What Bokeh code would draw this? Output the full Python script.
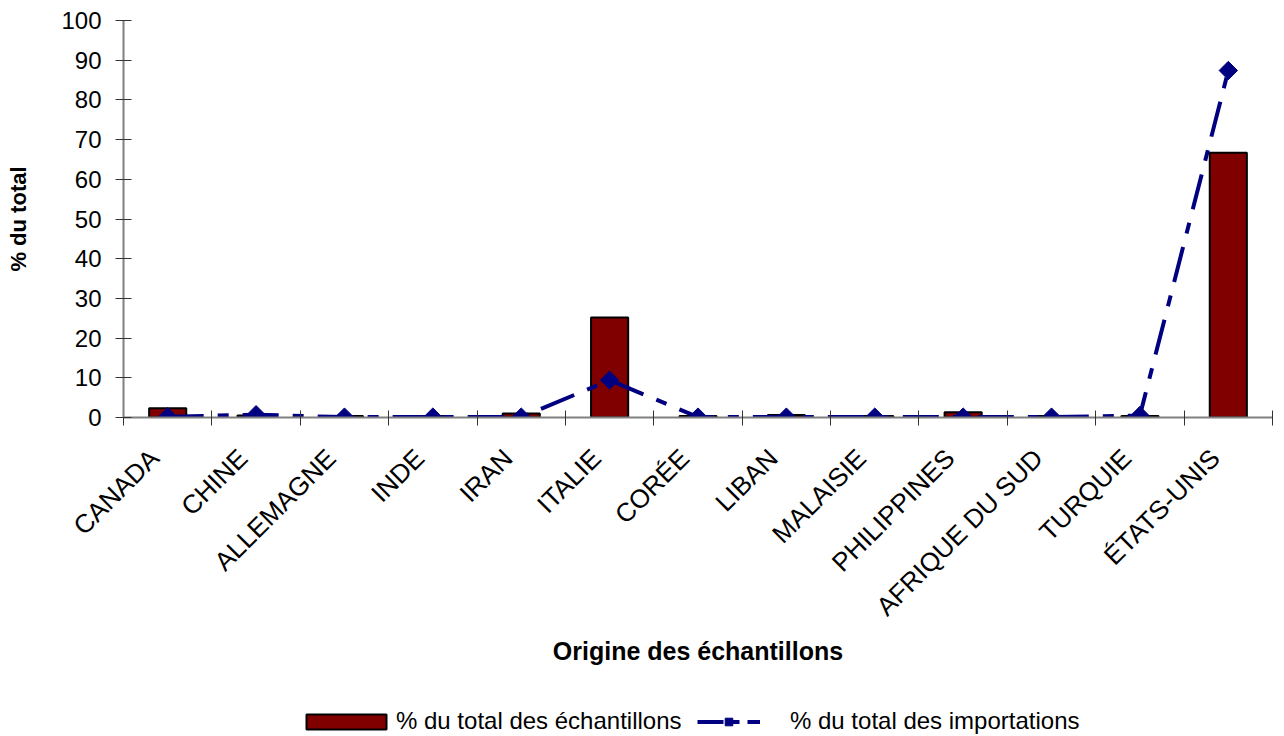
import math
import numpy as np
from bokeh.plotting import figure
from bokeh.layouts import column
from bokeh.models import Range1d, FixedTicker, Legend, LegendItem
from bokeh.embed import file_html
from bokeh.resources import INLINE

countries = ["CANADA", "CHINE", "ALLEMAGNE", "INDE", "IRAN", "ITALIE", "CORÉE",
             "LIBAN", "MALAISIE", "PHILIPPINES", "AFRIQUE DU SUD", "TURQUIE", "ÉTATS-UNIS"]
pct_samples = [2.3, 0.5, 0.4, 0.4, 1.0, 25.2, 0.4, 0.6, 0.4, 1.3, 0.4, 0.4, 66.7]
pct_imports = [0.2, 0.7, 0.1, 0.1, 0.1, 9.4, 0.1, 0.1, 0.1, 0.1, 0.1, 0.5, 87.4]
y_ticks = [0, 10, 20, 30, 40, 50, 60, 70, 80, 90, 100]

centers = [i + 0.5 for i in range(len(countries))]
bounds = [i for i in range(len(countries) + 1)]
label_pos = [c - 0.15 for c in centers]

FONT = "Liberation Sans"
BAR_FILL = "#800000"
LINE_COL = "#000080"
DASH = "36 14 11 14"

p = figure(width=1284, height=680, output_backend="svg", toolbar_location=None,
           x_range=Range1d(0, len(countries)), y_range=Range1d(0, 100),
           min_border_left=123, min_border_right=12, min_border_top=20,
           min_border_bottom=263)
p.outline_line_color = None
p.xgrid.visible = False
p.ygrid.visible = False
p.background_fill_color = "white"
p.border_fill_color = "white"

bars = p.vbar(x=centers, top=pct_samples, width=0.42, bottom=0,
              fill_color=BAR_FILL, line_color="black", line_width=2)
line = p.line(x=centers, y=pct_imports, line_color=LINE_COL, line_width=4,
              line_dash=DASH)
pts = p.scatter(x=centers, y=pct_imports, marker="square", angle=math.pi / 4,
                size=13, fill_color=LINE_COL, line_color=LINE_COL)

# x axis
xa = p.xaxis[0]
xa.ticker = FixedTicker(ticks=label_pos, minor_ticks=bounds)
xa.major_label_overrides = {c: n for c, n in zip(label_pos, countries)}
xa.major_label_orientation = math.pi / 4
xa.major_tick_line_color = None
xa.major_tick_in = 0
xa.major_tick_out = 0
xa.minor_tick_in = 7
xa.minor_tick_out = 8
xa.minor_tick_line_color = "#333333"
xa.axis_line_color = "#808080"
xa.axis_line_width = 2
xa.major_label_text_font = FONT
xa.major_label_text_font_size = "26px"
xa.major_label_text_color = "black"
xa.major_label_standoff = 28
xa.axis_label = "Origine des échantillons"
xa.axis_label_text_font = FONT
xa.axis_label_text_font_size = "25px"
xa.axis_label_text_font_style = "bold"
xa.axis_label_text_color = "black"
xa.axis_label_standoff = 2

# y axis
ya = p.yaxis[0]
ya.ticker = FixedTicker(ticks=y_ticks, minor_ticks=[])
ya.major_tick_in = 8
ya.major_tick_out = 8
ya.major_tick_line_color = "#333333"
ya.minor_tick_line_color = None
ya.axis_line_color = "#808080"
ya.axis_line_width = 2
ya.major_label_text_font = FONT
ya.major_label_text_font_size = "24px"
ya.major_label_text_color = "black"
ya.major_label_standoff = 14
ya.axis_label = "% du total"
ya.axis_label_text_font = FONT
ya.axis_label_text_font_size = "22px"
ya.axis_label_text_font_style = "bold"
ya.axis_label_text_color = "black"
ya.axis_label_standoff = 27

# legend strip (separate figure below the chart; its frame aligns with the chart frame)
lf = figure(width=1284, height=56, output_backend="svg", toolbar_location=None,
            x_range=Range1d(0, 1), y_range=Range1d(0, 1),
            x_axis_type=None, y_axis_type=None, min_border=0)
lf.outline_line_color = None
lf.background_fill_color = "white"
lf.border_fill_color = "white"
# legend-only renderers with no drawable (NaN) data
nan1 = np.array([np.nan])
nan2 = np.array([np.nan, np.nan])
lb = lf.vbar(x=nan1, top=nan1, width=0.1, fill_color=BAR_FILL, line_color="black",
             line_width=2)
ll = lf.line(x=nan2, y=nan2, line_color=LINE_COL, line_width=4, line_dash="26 8 8 8")
lp = lf.scatter(x=nan1, y=nan1, marker="square", angle=math.pi / 4, size=13,
                fill_color=LINE_COL, line_color=LINE_COL)

def make_legend(items, loc, gw, gh, standoff):
    lg = Legend(items=items, orientation="horizontal", location=loc)
    lg.border_line_color = None
    lg.background_fill_alpha = 0
    lg.glyph_width = gw
    lg.glyph_height = gh
    lg.label_text_font = FONT
    lg.label_text_font_size = "24px"
    lg.label_text_color = "black"
    lg.label_standoff = standoff
    lg.margin = 0
    lg.padding = 0
    return lg

lg1 = make_legend([LegendItem(label="% du total des échantillons", renderers=[lb])],
                  (173, 1), 100, 19, 0)
lg2 = make_legend([LegendItem(label="% du total des importations", renderers=[ll, lp])],
                  (574, 1), 63, 19, 30)
lf.add_layout(lg1, "center")
lf.add_layout(lg2, "center")

layout = column(p, lf, spacing=0)
open("out.html", "w").write(file_html(layout, INLINE))
